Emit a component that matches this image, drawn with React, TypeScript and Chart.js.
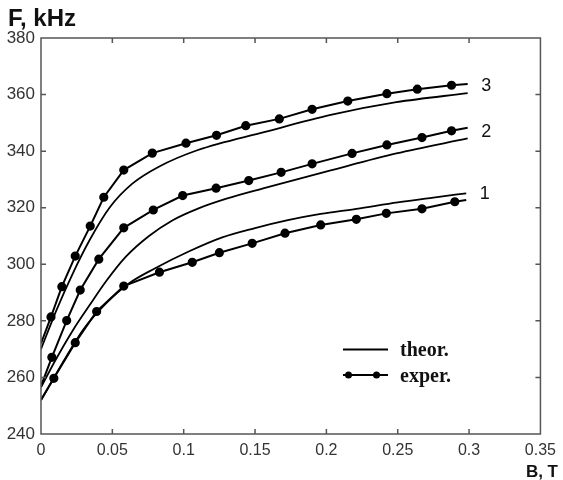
import React, { useEffect, useRef } from "react";
import { Chart, registerables } from "chart.js";
Chart.register(...registerables);

// Theory curves (B in T, F in kHz)
const th1X = [0, 0.015, 0.0294, 0.0456, 0.0618, 0.08, 0.1035, 0.127, 0.15, 0.173, 0.196, 0.221, 0.25, 0.275, 0.298];
const th1Y = [252, 265, 276.8, 286.2, 293.3, 298.6, 304.5, 309.5, 312.8, 315.6, 317.8, 319.6, 321.9, 323.6, 325.1];
const th2X = [0, 0.01, 0.0225, 0.034, 0.0456, 0.0595, 0.0757, 0.092, 0.11, 0.13, 0.157, 0.203, 0.249, 0.299];
const th2Y = [256.5, 266, 276.8, 285.5, 294, 302.7, 310, 315.5, 319.7, 323.2, 327.0, 333.2, 339.2, 344.5];
const th3X = [0, 0.011, 0.0225, 0.034, 0.048, 0.064, 0.0826, 0.11, 0.157, 0.203, 0.249, 0.299];
const th3Y = [270, 284, 297, 308.5, 320, 328.5, 334.5, 340.4, 346.8, 352.8, 357.3, 360.5];

// Experimental curves
const ex1X = [0, 0.009, 0.024, 0.039, 0.058, 0.083, 0.106, 0.125, 0.148, 0.171, 0.196, 0.221, 0.242, 0.267, 0.29, 0.298];
const ex1Y = [252, 259.7, 272.3, 283.3, 292.3, 297.2, 300.7, 304.1, 307.4, 311.0, 313.9, 315.9, 318.0, 319.6, 322.1, 322.7];
const ex2X = [0, 0.0076, 0.018, 0.0275, 0.0405, 0.058, 0.0787, 0.0993, 0.1227, 0.1456, 0.1683, 0.19, 0.218, 0.2424, 0.267, 0.2877, 0.299];
const ex2Y = [257, 267.1, 280.1, 290.9, 301.8, 312.9, 319.2, 324.3, 326.9, 329.6, 332.5, 335.5, 339.2, 342.2, 344.8, 347.2, 348.3];
const ex3X = [0, 0.007, 0.0146, 0.024, 0.0345, 0.044, 0.058, 0.078, 0.1016, 0.123, 0.1435, 0.167, 0.19, 0.215, 0.2424, 0.2637, 0.2877, 0.299];
const ex3Y = [272, 281.4, 292.1, 302.9, 313.5, 323.7, 333.3, 339.3, 342.8, 345.6, 349.0, 351.4, 354.8, 357.7, 360.3, 361.9, 363.3, 363.7];

// Curve number labels (data coordinates)
const curveLabels = ["1", "2", "3"];
const curveLabelX = [0.3075, 0.3085, 0.3085];
const curveLabelY = [324.7, 346.8, 362.9];

const xTicks = [0, 0.05, 0.1, 0.15, 0.2, 0.25, 0.3, 0.35];
const yTicks = [240, 260, 280, 300, 320, 340, 360, 380];

const yTitle = "F, kHz";
const xTitle = "B, T";
const legendLabels = ["theor.", "exper."];

function pts(xs: number[], ys: number[]) {
  return xs.map((x, i) => ({ x, y: ys[i] }));
}

export default function App() {
  const ref = useRef<HTMLCanvasElement>(null);
  useEffect(() => {
    const canvas = ref.current!;
    const decor = {
      id: "decor",
      afterDraw(chart: any) {
        const ctx = chart.ctx as CanvasRenderingContext2D;
        const { left, top, right, bottom } = chart.chartArea;
        const xs = chart.scales.x;
        const ys = chart.scales.y;
        ctx.save();
        // box
        ctx.strokeStyle = "#555";
        ctx.lineWidth = 1.5;
        ctx.strokeRect(left, top, right - left, bottom - top);
        // inward ticks
        const tl = 5;
        ctx.beginPath();
        xTicks.slice(1, -1).forEach((v) => {
          const px = xs.getPixelForValue(v);
          ctx.moveTo(px, bottom);
          ctx.lineTo(px, bottom - tl);
          ctx.moveTo(px, top);
          ctx.lineTo(px, top + tl);
        });
        yTicks.slice(1, -1).forEach((v) => {
          const py = ys.getPixelForValue(v);
          ctx.moveTo(left, py);
          ctx.lineTo(left + tl, py);
          ctx.moveTo(right, py);
          ctx.lineTo(right - tl, py);
        });
        ctx.stroke();

        // curve labels
        ctx.fillStyle = "#111";
        ctx.font = "18px 'Liberation Sans', Arial, sans-serif";
        ctx.textAlign = "left";
        ctx.textBaseline = "middle";
        curveLabels.forEach((t, i) => {
          ctx.fillText(t, xs.getPixelForValue(curveLabelX[i]), ys.getPixelForValue(curveLabelY[i]));
        });

        // axis titles
        ctx.fillStyle = "#111";
        ctx.font = "bold 24px 'Liberation Sans', Arial, sans-serif";
        ctx.textBaseline = "alphabetic";
        ctx.textAlign = "left";
        ctx.fillText(yTitle, 8, 26);
        ctx.font = "bold 17px 'Liberation Sans', Arial, sans-serif";
        ctx.textAlign = "right";
        ctx.fillText(xTitle, 558, 477);

        // legend
        ctx.strokeStyle = "#000";
        ctx.lineWidth = 2;
        ctx.beginPath();
        ctx.moveTo(343, 349.5);
        ctx.lineTo(388, 349.5);
        ctx.moveTo(343, 375);
        ctx.lineTo(388, 375);
        ctx.stroke();
        ctx.fillStyle = "#000";
        [348.5, 376.5].forEach((cx) => {
          ctx.beginPath();
          ctx.arc(cx, 375, 3.5, 0, Math.PI * 2);
          ctx.fill();
        });
        ctx.font = "bold 20px 'Liberation Serif', 'Times New Roman', serif";
        ctx.textAlign = "left";
        ctx.fillStyle = "#111";
        ctx.fillText(legendLabels[0], 400, 356);
        ctx.fillText(legendLabels[1], 400, 382);
        ctx.restore();
      },
    };

    const radiusFn = (n: number) => (c: any) => (c.dataIndex === 0 || c.dataIndex === n - 1 ? 0 : 3.6);
    const thStyle = {
      showLine: true,
      borderColor: "#000",
      borderWidth: 1.8,
      pointRadius: 0,
      cubicInterpolationMode: "monotone" as const,
    };
    const exStyle = {
      showLine: true,
      borderColor: "#000",
      borderWidth: 2,
      backgroundColor: "#000",
      pointBackgroundColor: "#000",
      pointBorderColor: "#000",
      tension: 0,
    };

    const chart = new Chart(canvas, {
      type: "scatter",
      data: {
        datasets: [
          { label: "theor. 1", data: pts(th1X, th1Y), ...thStyle },
          { label: "theor. 2", data: pts(th2X, th2Y), ...thStyle },
          { label: "theor. 3", data: pts(th3X, th3Y), ...thStyle },
          { label: "exper. 1", data: pts(ex1X, ex1Y), ...exStyle, pointRadius: radiusFn(ex1X.length) },
          { label: "exper. 2", data: pts(ex2X, ex2Y), ...exStyle, pointRadius: radiusFn(ex2X.length) },
          { label: "exper. 3", data: pts(ex3X, ex3Y), ...exStyle, pointRadius: radiusFn(ex3X.length) },
        ] as any,
      },
      options: {
        responsive: false,
        animation: false,
        devicePixelRatio: 1,
        layout: { padding: { left: 0, top: 38, right: 17, bottom: 0 } },
        plugins: { legend: { display: false }, tooltip: { enabled: false } },
        scales: {
          x: {
            type: "linear",
            min: 0,
            max: 0.35,
            grid: { display: false, drawTicks: false },
            border: { display: false },
            afterBuildTicks: (s: any) => {
              s.ticks = xTicks.map((v) => ({ value: v }));
            },
            ticks: {
              padding: 7,
              autoSkip: false,
              maxRotation: 0,
              color: "#333",
              font: { family: "'Liberation Sans', Arial, sans-serif", size: 16 },
              callback: (v: any) => String(+Number(v).toFixed(2)),
            },
            afterFit: (s: any) => {
              s.height = 46;
            },
          },
          y: {
            type: "linear",
            min: 240,
            max: 380,
            grid: { display: false, drawTicks: false },
            border: { display: false },
            afterBuildTicks: (s: any) => {
              s.ticks = yTicks.map((v) => ({ value: v }));
            },
            ticks: {
              padding: 6,
              autoSkip: false,
              color: "#333",
              font: { family: "'Liberation Sans', Arial, sans-serif", size: 17 },
              callback: (v: any) => String(v),
            },
            afterFit: (s: any) => {
              s.width = 41;
            },
          },
        },
      } as any,
      plugins: [decor],
    });
    return () => chart.destroy();
  }, []);
  return (
    <div style={{ position: "fixed", left: 0, top: 0, width: 563, height: 480, background: "#fff" }}>
      <canvas ref={ref} width={563} height={480} style={{ display: "block" }} />
    </div>
  );
}
